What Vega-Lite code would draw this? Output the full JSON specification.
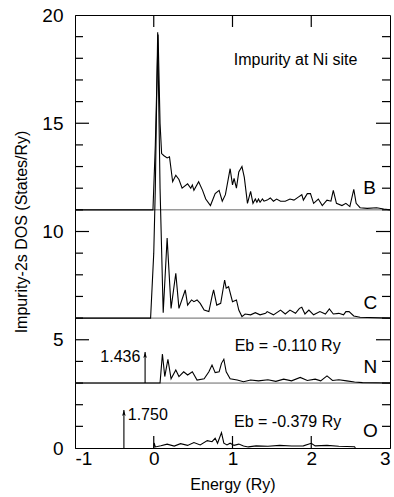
{
  "$schema": "https://vega.github.io/schema/vega-lite/v6.json",
  "width": 315,
  "height": 433,
  "autosize": {"type": "none"},
  "padding": {"left": 75, "top": 15, "right": 4, "bottom": 49},
  "config": {
    "view": {"stroke": "black", "strokeWidth": 1},
    "font": "Liberation Sans",
    "axis": {"grid": false, "domainColor": "black", "tickColor": "black", "tickOpacity": 0, "labelColor": "black", "titleColor": "black", "labelFont": "Liberation Sans", "titleFont": "Liberation Sans", "labelFontSize": 19, "titleFontSize": 16, "titleFontWeight": "normal"}
  },
  "datasets": {
    "curves": [
      {"s": "B", "x": -1, "y": 11}, {"s": "B", "x": -0.01, "y": 11}, {"s": "B", "x": 0.02, "y": 14}, {"s": "B", "x": 0.055, "y": 19.1}, {"s": "B", "x": 0.08, "y": 15}, {"s": "B", "x": 0.1, "y": 13.6}, {"s": "B", "x": 0.13, "y": 13.5}, {"s": "B", "x": 0.17, "y": 13.4}, {"s": "B", "x": 0.2, "y": 13.45}, {"s": "B", "x": 0.24, "y": 12.3}, {"s": "B", "x": 0.28, "y": 12.6}, {"s": "B", "x": 0.32, "y": 12.4}, {"s": "B", "x": 0.36, "y": 12.0}, {"s": "B", "x": 0.43, "y": 12.2}, {"s": "B", "x": 0.47, "y": 12.0}, {"s": "B", "x": 0.49, "y": 12.15}, {"s": "B", "x": 0.51, "y": 11.9}, {"s": "B", "x": 0.57, "y": 12.3}, {"s": "B", "x": 0.62, "y": 11.9}, {"s": "B", "x": 0.66, "y": 11.5}, {"s": "B", "x": 0.72, "y": 11.2}, {"s": "B", "x": 0.78, "y": 11.75}, {"s": "B", "x": 0.83, "y": 11.9}, {"s": "B", "x": 0.87, "y": 11.4}, {"s": "B", "x": 0.91, "y": 11.7}, {"s": "B", "x": 0.97, "y": 12.9}, {"s": "B", "x": 1.0, "y": 12.15}, {"s": "B", "x": 1.02, "y": 12.45}, {"s": "B", "x": 1.05, "y": 12.0}, {"s": "B", "x": 1.08, "y": 12.75}, {"s": "B", "x": 1.12, "y": 13.0}, {"s": "B", "x": 1.15, "y": 12.5}, {"s": "B", "x": 1.19, "y": 11.3}, {"s": "B", "x": 1.23, "y": 11.85}, {"s": "B", "x": 1.26, "y": 11.3}, {"s": "B", "x": 1.29, "y": 11.5}, {"s": "B", "x": 1.31, "y": 11.35}, {"s": "B", "x": 1.33, "y": 11.5}, {"s": "B", "x": 1.35, "y": 11.35}, {"s": "B", "x": 1.38, "y": 11.5}, {"s": "B", "x": 1.4, "y": 11.4}, {"s": "B", "x": 1.44, "y": 11.45}, {"s": "B", "x": 1.48, "y": 11.55}, {"s": "B", "x": 1.52, "y": 11.4}, {"s": "B", "x": 1.56, "y": 11.5}, {"s": "B", "x": 1.61, "y": 11.4}, {"s": "B", "x": 1.67, "y": 11.4}, {"s": "B", "x": 1.73, "y": 11.5}, {"s": "B", "x": 1.78, "y": 11.45}, {"s": "B", "x": 1.84, "y": 11.6}, {"s": "B", "x": 1.88, "y": 11.7}, {"s": "B", "x": 1.9, "y": 11.45}, {"s": "B", "x": 1.95, "y": 11.75}, {"s": "B", "x": 1.99, "y": 11.75}, {"s": "B", "x": 2.03, "y": 11.3}, {"s": "B", "x": 2.09, "y": 11.5}, {"s": "B", "x": 2.14, "y": 11.2}, {"s": "B", "x": 2.2, "y": 11.45}, {"s": "B", "x": 2.25, "y": 11.4}, {"s": "B", "x": 2.28, "y": 11.9}, {"s": "B", "x": 2.32, "y": 11.3}, {"s": "B", "x": 2.39, "y": 11.2}, {"s": "B", "x": 2.44, "y": 11.3}, {"s": "B", "x": 2.49, "y": 11.15}, {"s": "B", "x": 2.54, "y": 11.95}, {"s": "B", "x": 2.57, "y": 11.3}, {"s": "B", "x": 2.62, "y": 11.1}, {"s": "B", "x": 2.71, "y": 11.07}, {"s": "B", "x": 2.83, "y": 11.1}, {"s": "B", "x": 2.92, "y": 11.04}, {"s": "B", "x": 3.0, "y": 11.0},
      {"s": "C", "x": -1, "y": 6}, {"s": "C", "x": -0.04, "y": 6}, {"s": "C", "x": 0.0, "y": 9}, {"s": "C", "x": 0.02, "y": 12}, {"s": "C", "x": 0.05, "y": 19.2}, {"s": "C", "x": 0.08, "y": 12}, {"s": "C", "x": 0.12, "y": 6.25}, {"s": "C", "x": 0.17, "y": 9.7}, {"s": "C", "x": 0.22, "y": 6.45}, {"s": "C", "x": 0.28, "y": 8.07}, {"s": "C", "x": 0.32, "y": 6.45}, {"s": "C", "x": 0.4, "y": 7.3}, {"s": "C", "x": 0.43, "y": 6.6}, {"s": "C", "x": 0.48, "y": 6.84}, {"s": "C", "x": 0.51, "y": 6.76}, {"s": "C", "x": 0.55, "y": 6.84}, {"s": "C", "x": 0.59, "y": 6.68}, {"s": "C", "x": 0.64, "y": 6.37}, {"s": "C", "x": 0.7, "y": 6.3}, {"s": "C", "x": 0.74, "y": 7.0}, {"s": "C", "x": 0.76, "y": 7.3}, {"s": "C", "x": 0.8, "y": 6.6}, {"s": "C", "x": 0.85, "y": 6.68}, {"s": "C", "x": 0.9, "y": 7.76}, {"s": "C", "x": 0.92, "y": 7.38}, {"s": "C", "x": 0.95, "y": 7.45}, {"s": "C", "x": 1.0, "y": 6.76}, {"s": "C", "x": 1.05, "y": 6.84}, {"s": "C", "x": 1.08, "y": 6.37}, {"s": "C", "x": 1.12, "y": 6.07}, {"s": "C", "x": 1.16, "y": 6.19}, {"s": "C", "x": 1.23, "y": 6.15}, {"s": "C", "x": 1.29, "y": 6.25}, {"s": "C", "x": 1.35, "y": 6.15}, {"s": "C", "x": 1.42, "y": 6.22}, {"s": "C", "x": 1.44, "y": 6.3}, {"s": "C", "x": 1.52, "y": 6.15}, {"s": "C", "x": 1.61, "y": 6.37}, {"s": "C", "x": 1.67, "y": 6.19}, {"s": "C", "x": 1.73, "y": 6.37}, {"s": "C", "x": 1.8, "y": 6.22}, {"s": "C", "x": 1.85, "y": 6.45}, {"s": "C", "x": 1.88, "y": 6.5}, {"s": "C", "x": 1.92, "y": 6.19}, {"s": "C", "x": 1.97, "y": 6.37}, {"s": "C", "x": 2.03, "y": 6.15}, {"s": "C", "x": 2.11, "y": 6.3}, {"s": "C", "x": 2.18, "y": 6.19}, {"s": "C", "x": 2.23, "y": 6.42}, {"s": "C", "x": 2.28, "y": 6.19}, {"s": "C", "x": 2.35, "y": 6.22}, {"s": "C", "x": 2.41, "y": 6.15}, {"s": "C", "x": 2.44, "y": 6.3}, {"s": "C", "x": 2.48, "y": 6.3}, {"s": "C", "x": 2.54, "y": 6.1}, {"s": "C", "x": 2.62, "y": 6.04}, {"s": "C", "x": 3.0, "y": 6.0},
      {"s": "N", "x": -1, "y": 3}, {"s": "N", "x": 0.08, "y": 3}, {"s": "N", "x": 0.11, "y": 4.34}, {"s": "N", "x": 0.14, "y": 3.3}, {"s": "N", "x": 0.18, "y": 4.1}, {"s": "N", "x": 0.22, "y": 3.2}, {"s": "N", "x": 0.28, "y": 3.6}, {"s": "N", "x": 0.32, "y": 3.3}, {"s": "N", "x": 0.38, "y": 3.52}, {"s": "N", "x": 0.43, "y": 3.37}, {"s": "N", "x": 0.49, "y": 3.52}, {"s": "N", "x": 0.55, "y": 3.14}, {"s": "N", "x": 0.64, "y": 3.2}, {"s": "N", "x": 0.7, "y": 3.52}, {"s": "N", "x": 0.74, "y": 3.83}, {"s": "N", "x": 0.78, "y": 3.48}, {"s": "N", "x": 0.83, "y": 3.52}, {"s": "N", "x": 0.86, "y": 3.91}, {"s": "N", "x": 0.89, "y": 4.1}, {"s": "N", "x": 0.92, "y": 3.52}, {"s": "N", "x": 0.97, "y": 3.2}, {"s": "N", "x": 1.06, "y": 3.14}, {"s": "N", "x": 1.14, "y": 3.06}, {"s": "N", "x": 1.23, "y": 3.14}, {"s": "N", "x": 1.33, "y": 3.1}, {"s": "N", "x": 1.45, "y": 3.15}, {"s": "N", "x": 1.55, "y": 3.08}, {"s": "N", "x": 1.65, "y": 3.18}, {"s": "N", "x": 1.75, "y": 3.1}, {"s": "N", "x": 1.86, "y": 3.26}, {"s": "N", "x": 1.95, "y": 3.12}, {"s": "N", "x": 2.05, "y": 3.18}, {"s": "N", "x": 2.12, "y": 3.1}, {"s": "N", "x": 2.2, "y": 3.33}, {"s": "N", "x": 2.27, "y": 3.12}, {"s": "N", "x": 2.35, "y": 3.15}, {"s": "N", "x": 2.45, "y": 3.1}, {"s": "N", "x": 2.55, "y": 3.05}, {"s": "N", "x": 2.65, "y": 3.02}, {"s": "N", "x": 3.0, "y": 3.0},
      {"s": "O", "x": 0, "y": 0}, {"s": "O", "x": 0.005, "y": 0.23}, {"s": "O", "x": 0.02, "y": 0.05}, {"s": "O", "x": 0.09, "y": 0.1}, {"s": "O", "x": 0.17, "y": 0.18}, {"s": "O", "x": 0.26, "y": 0.09}, {"s": "O", "x": 0.34, "y": 0.2}, {"s": "O", "x": 0.43, "y": 0.12}, {"s": "O", "x": 0.51, "y": 0.25}, {"s": "O", "x": 0.59, "y": 0.14}, {"s": "O", "x": 0.68, "y": 0.34}, {"s": "O", "x": 0.74, "y": 0.29}, {"s": "O", "x": 0.78, "y": 0.45}, {"s": "O", "x": 0.81, "y": 0.22}, {"s": "O", "x": 0.86, "y": 0.71}, {"s": "O", "x": 0.89, "y": 0.22}, {"s": "O", "x": 0.93, "y": 0.14}, {"s": "O", "x": 0.97, "y": 0.22}, {"s": "O", "x": 1.02, "y": 0.12}, {"s": "O", "x": 1.08, "y": 0.18}, {"s": "O", "x": 1.14, "y": 0.09}, {"s": "O", "x": 1.2, "y": 0.05}, {"s": "O", "x": 1.3, "y": 0.1}, {"s": "O", "x": 1.45, "y": 0.08}, {"s": "O", "x": 1.6, "y": 0.12}, {"s": "O", "x": 1.75, "y": 0.09}, {"s": "O", "x": 1.9, "y": 0.1}, {"s": "O", "x": 2.0, "y": 0.22}, {"s": "O", "x": 2.05, "y": 0.1}, {"s": "O", "x": 2.2, "y": 0.12}, {"s": "O", "x": 2.35, "y": 0.08}, {"s": "O", "x": 2.55, "y": 0.06}, {"s": "O", "x": 2.56, "y": 0.0}
    ],
    "baselines": [{"y": 11}, {"y": 6}, {"y": 3}],
    "arrows": [{"x": -0.11, "y0": 3, "y1": 4.436}, {"x": -0.379, "y0": 0, "y1": 1.75}],
    "letters": [{"x": 2.74, "y": 12.0, "t": "B"}, {"x": 2.75, "y": 6.71, "t": "C"}, {"x": 2.75, "y": 3.76, "t": "N"}, {"x": 2.75, "y": 0.8, "t": "O"}],
    "notes": [{"x": 1.8, "y": 17.9, "t": "Impurity at Ni site"}, {"x": 1.7, "y": 4.71, "t": "Eb = -0.110 Ry"}, {"x": 1.7, "y": 1.21, "t": "Eb = -0.379 Ry"}],
    "valR": [{"x": -0.17, "y": 4.2, "t": "1.436"}],
    "valL": [{"x": -0.33, "y": 1.52, "t": "1.750"}],
    "ymajor": [{"v": 5}, {"v": 10}, {"v": 15}],
    "yminor": [{"v": 1}, {"v": 2}, {"v": 3}, {"v": 4}, {"v": 6}, {"v": 7}, {"v": 8}, {"v": 9}, {"v": 11}, {"v": 12}, {"v": 13}, {"v": 14}, {"v": 16}, {"v": 17}, {"v": 18}, {"v": 19}],
    "xmajor": [{"v": 0}, {"v": 1}, {"v": 2}]
  },
  "layer": [
    {
      "data": {"name": "baselines"},
      "mark": {"type": "rule", "color": "#666", "strokeWidth": 1},
      "encoding": {
        "y": {"field": "y", "type": "quantitative", "scale": {"domain": [0, 20], "nice": false}, "axis": null}
      }
    },
    {
      "data": {"name": "curves"},
      "mark": {"type": "line", "color": "black", "strokeWidth": 1.1},
      "encoding": {
        "x": {"field": "x", "type": "quantitative", "scale": {"domain": [-1, 3], "nice": false},
          "axis": {"orient": "bottom", "values": [-1, 0, 1, 2, 3], "labelExpr": "'' + datum.value", "tickSize": -6, "labelPadding": 7, "title": "Energy (Ry)", "titlePadding": 8}},
        "y": {"field": "y", "type": "quantitative", "scale": {"domain": [0, 20], "nice": false},
          "axis": {"orient": "left", "values": [0,1,2,3,4,5,6,7,8,9,10,11,12,13,14,15,16,17,18,19,20],
            "labelExpr": "datum.value % 5 === 0 ? datum.label : ''", "labelPadding": 19, "title": "Impurity-2s DOS (States/Ry)", "titlePadding": 12,
            "tickSize": {"condition": {"test": "datum.value % 5 === 0", "value": -7}, "value": -4}}},
        "detail": {"field": "s"}
      }
    },
    {
      "data": {"name": "ymajor"},
      "mark": {"type": "tick", "orient": "horizontal", "color": "black", "opacity": 1, "thickness": 1.2, "size": 14, "xOffset": 7},
      "encoding": {
        "x": {"datum": -1, "type": "quantitative", "axis": null},
        "y": {"field": "v", "type": "quantitative", "axis": null}
      }
    },
    {
      "data": {"name": "ymajor"},
      "mark": {"type": "tick", "orient": "horizontal", "color": "black", "opacity": 1, "thickness": 1.2, "size": 14, "xOffset": -7},
      "encoding": {
        "x": {"datum": 3, "type": "quantitative", "axis": null},
        "y": {"field": "v", "type": "quantitative", "axis": null}
      }
    },
    {
      "data": {"name": "yminor"},
      "mark": {"type": "tick", "orient": "horizontal", "color": "black", "opacity": 1, "thickness": 1.2, "size": 8, "xOffset": 4},
      "encoding": {
        "x": {"datum": -1, "type": "quantitative", "axis": null},
        "y": {"field": "v", "type": "quantitative", "axis": null}
      }
    },
    {
      "data": {"name": "yminor"},
      "mark": {"type": "tick", "orient": "horizontal", "color": "black", "opacity": 1, "thickness": 1.2, "size": 8, "xOffset": -4},
      "encoding": {
        "x": {"datum": 3, "type": "quantitative", "axis": null},
        "y": {"field": "v", "type": "quantitative", "axis": null}
      }
    },
    {
      "data": {"name": "xmajor"},
      "mark": {"type": "tick", "orient": "vertical", "color": "black", "opacity": 1, "thickness": 1.2, "size": 12, "yOffset": -6},
      "encoding": {
        "x": {"field": "v", "type": "quantitative", "axis": null},
        "y": {"datum": 0, "type": "quantitative", "axis": null}
      }
    },
    {
      "data": {"name": "xmajor"},
      "mark": {"type": "tick", "orient": "vertical", "color": "black", "opacity": 1, "thickness": 1.2, "size": 12, "yOffset": 6},
      "encoding": {
        "x": {"field": "v", "type": "quantitative", "axis": null},
        "y": {"datum": 20, "type": "quantitative", "axis": null}
      }
    },
    {
      "data": {"name": "arrows"},
      "mark": {"type": "rule", "color": "black", "strokeWidth": 1.1},
      "encoding": {
        "x": {"field": "x", "type": "quantitative", "axis": null},
        "y": {"field": "y0", "type": "quantitative", "axis": null},
        "y2": {"field": "y1"}
      }
    },
    {
      "data": {"name": "arrows"},
      "mark": {"type": "point", "shape": "M0,0L-0.6,2L0,1.5L0.6,2Z", "filled": true, "color": "black", "size": 36, "opacity": 1},
      "encoding": {
        "x": {"field": "x", "type": "quantitative", "axis": null},
        "y": {"field": "y1", "type": "quantitative", "axis": null}
      }
    },
    {
      "data": {"name": "letters"},
      "mark": {"type": "text", "fontSize": 19, "font": "Liberation Sans", "align": "center", "baseline": "middle", "color": "black"},
      "encoding": {
        "x": {"field": "x", "type": "quantitative", "axis": null},
        "y": {"field": "y", "type": "quantitative", "axis": null},
        "text": {"field": "t"}
      }
    },
    {
      "data": {"name": "notes"},
      "mark": {"type": "text", "fontSize": 16, "font": "Liberation Sans", "align": "center", "baseline": "middle", "color": "black"},
      "encoding": {
        "x": {"field": "x", "type": "quantitative", "axis": null},
        "y": {"field": "y", "type": "quantitative", "axis": null},
        "text": {"field": "t"}
      }
    },
    {
      "data": {"name": "valR"},
      "mark": {"type": "text", "fontSize": 16, "font": "Liberation Sans", "align": "right", "baseline": "middle", "color": "black"},
      "encoding": {
        "x": {"field": "x", "type": "quantitative", "axis": null},
        "y": {"field": "y", "type": "quantitative", "axis": null},
        "text": {"field": "t"}
      }
    },
    {
      "data": {"name": "valL"},
      "mark": {"type": "text", "fontSize": 16, "font": "Liberation Sans", "align": "left", "baseline": "middle", "color": "black"},
      "encoding": {
        "x": {"field": "x", "type": "quantitative", "axis": null},
        "y": {"field": "y", "type": "quantitative", "axis": null},
        "text": {"field": "t"}
      }
    }
  ],
  "resolve": {"axis": {"x": "independent", "y": "independent"}}
}
